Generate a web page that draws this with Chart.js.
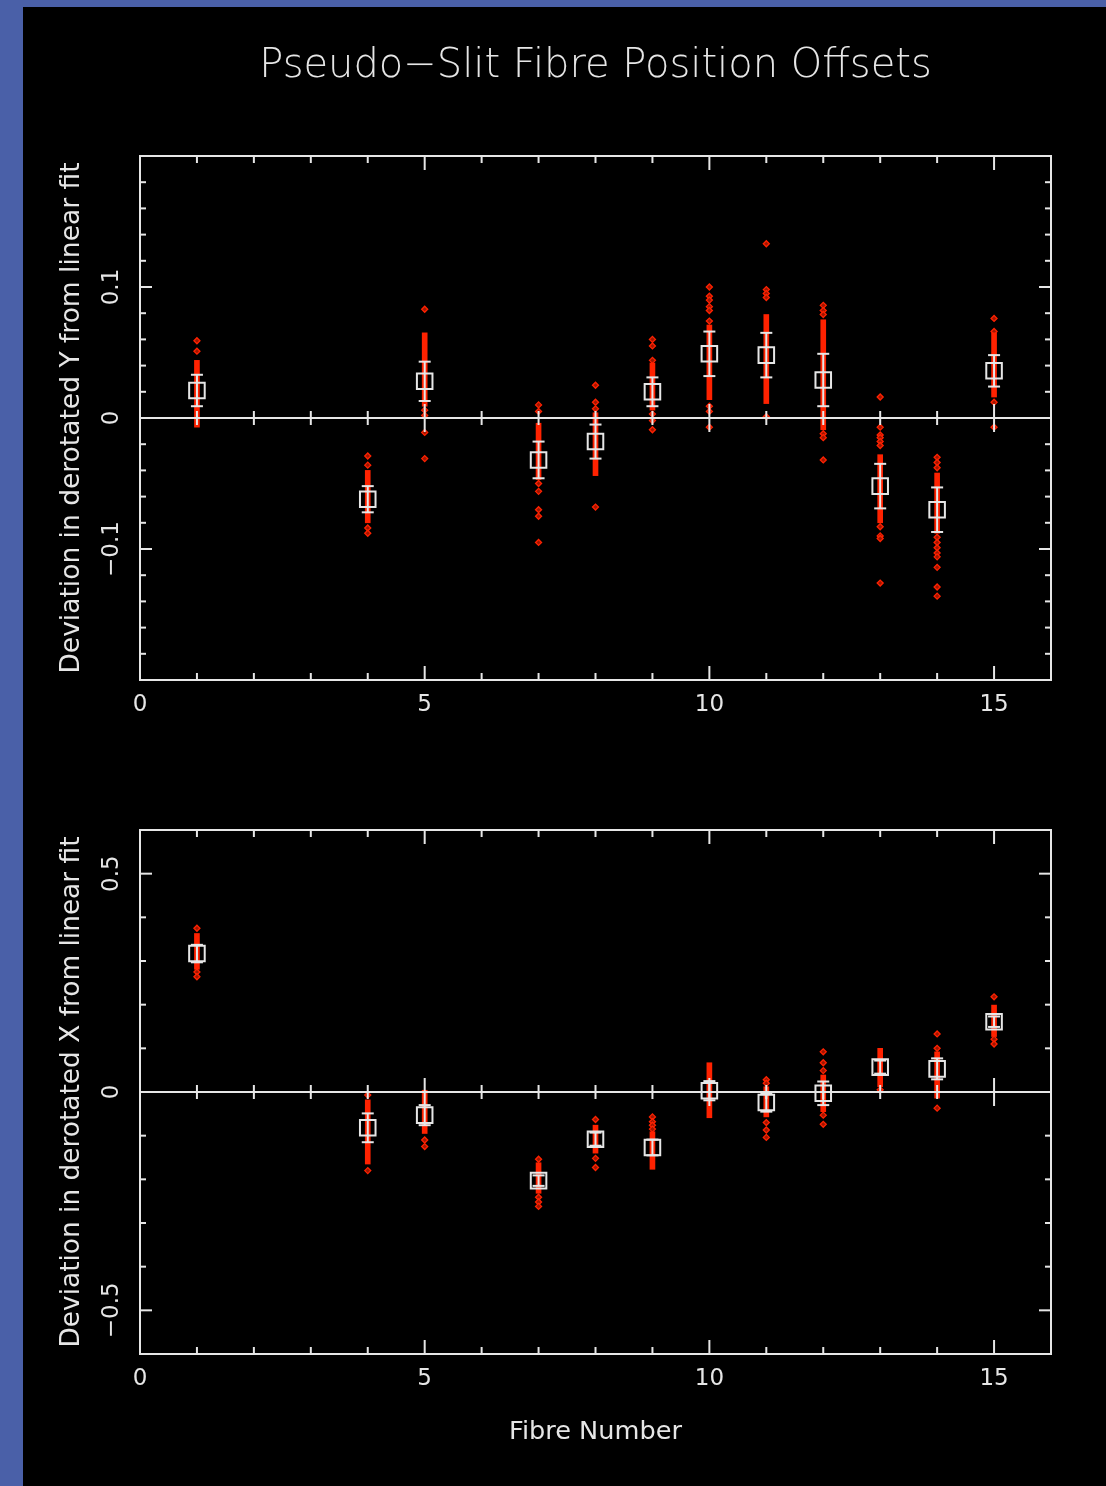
<!DOCTYPE html>
<html>
<head>
<meta charset="utf-8">
<script src="https://cdn.jsdelivr.net/npm/chart.js@4.4.1/dist/chart.umd.min.js"></script>
<style>
html, body { margin: 0; padding: 0; }
body { width: 1106px; height: 1486px; background: #4a60a8; position: relative; overflow: hidden; }
#panel { position: absolute; left: 23px; top: 7px; right: 0; bottom: 0; background: #000; }
.box { position: absolute; left: 0; width: 1106px; }
#topBox { top: 0; height: 740px; }
#bottomBox { top: 740px; height: 746px; }
</style>
</head>
<body>
<div id="panel"></div>
<div class="box" id="topBox"><canvas id="yOffsetChart"></canvas></div>
<div class="box" id="bottomBox"><canvas id="xOffsetChart"></canvas></div>
<script>
// fibres that were measured
var fibres = [1, 4, 5, 7, 8, 9, 10, 11, 12, 13, 14, 15];

// Y offsets (top panel): mean, error, dense range of samples, single outlying samples
var yMean = [0.021, -0.062, 0.028, -0.032, -0.018, 0.020, 0.049, 0.048, 0.029, -0.052, -0.070, 0.036];
var yErr = [0.012, 0.010, 0.015, 0.014, 0.013, 0.011, 0.017, 0.017, 0.020, 0.017, 0.017, 0.012];
var yBandLo = [-0.007, -0.080, 0.009, -0.047, -0.044, 0.006, 0.014, 0.011, -0.009, -0.080, -0.088, 0.016];
var yBandHi = [0.044, -0.040, 0.065, -0.004, 0.004, 0.042, 0.071, 0.079, 0.075, -0.028, -0.042, 0.065];
var yDots = [
    [0.059, 0.051],
    [-0.029, -0.036, -0.084, -0.088],
    [0.083, 0.006, 0.002, -0.011, -0.031],
    [0.010, 0.005, -0.050, -0.056, -0.070, -0.075, -0.095],
    [0.025, 0.012, 0.007, -0.068],
    [0.060, 0.055, 0.044, 0.003, -0.002, -0.009],
    [0.100, 0.093, 0.090, 0.085, 0.082, 0.074, 0.009, 0.005, -0.007],
    [0.133, 0.098, 0.095, 0.092, 0.001],
    [0.086, 0.082, 0.079, -0.012, -0.015, -0.032],
    [0.016, -0.007, -0.013, -0.015, -0.018, -0.021, -0.083, -0.090, -0.092, -0.126],
    [-0.030, -0.034, -0.038, -0.091, -0.095, -0.099, -0.103, -0.106, -0.114, -0.129, -0.136],
    [0.076, 0.066, 0.012, -0.007]
];

// X offsets (bottom panel)
var xMean = [0.317, -0.082, -0.053, -0.203, -0.108, -0.127, 0.003, -0.024, -0.003, 0.057, 0.053, 0.161];
var xErr = [0.020, 0.033, 0.023, 0.012, 0.015, 0.018, 0.022, 0.021, 0.027, 0.015, 0.024, 0.012];
var xBandLo = [0.281, -0.165, -0.095, -0.232, -0.140, -0.177, -0.059, -0.057, -0.045, 0.012, -0.014, 0.127];
var xBandHi = [0.363, -0.018, 0.004, -0.162, -0.076, -0.091, 0.067, 0.012, 0.039, 0.100, 0.092, 0.199];
var xDots = [
    [0.375, 0.275, 0.264],
    [-0.007, -0.180],
    [-0.110, -0.125],
    [-0.154, -0.241, -0.252, -0.262],
    [-0.063, -0.152, -0.173],
    [-0.057, -0.068, -0.076, -0.085],
    [],
    [0.028, 0.020, -0.070, -0.087, -0.104],
    [0.092, 0.067, 0.049, -0.053, -0.074],
    [0.005],
    [0.133, 0.100, -0.037],
    [0.218, 0.121, 0.110]
];

var xTickLabels = ['0', '5', '10', '15'];
var yTopTickLabels = ['0.1', '0', '\u22120.1'];
var yBottomTickLabels = ['0.5', '0', '\u22120.5'];

var white = '#e6e6e6';
var red = '#ff2200';
var fontFamily = "'DejaVu Sans', sans-serif";

// set font size so the text fills a given width
function fitFont(ctx, text, width, weight) {
    var w = weight || 'normal';
    ctx.font = w + ' 100px ' + fontFamily;
    var size = 100 * width / ctx.measureText(text).width;
    ctx.font = w + ' ' + size.toFixed(1) + 'px ' + fontFamily;
}

function line(ctx, x1, y1, x2, y2) {
    ctx.beginPath();
    ctx.moveTo(x1, y1);
    ctx.lineTo(x2, y2);
    ctx.stroke();
}

// PGPLOT-like box: frame with inward ticks, zero axis, error bars and labels
var pgBox = {
    id: 'pgBox',
    afterDatasetsDraw: function (chart, args, o) {
        var ctx = chart.ctx, a = chart.chartArea;
        var xs = chart.scales.x, ys = chart.scales.y;
        ctx.save();
        ctx.strokeStyle = white;
        ctx.fillStyle = white;
        ctx.lineWidth = 2;

        // error bars
        o.mean.forEach(function (m, i) {
            var px = xs.getPixelForValue(fibres[i]);
            var top = ys.getPixelForValue(m + o.err[i]);
            var bot = ys.getPixelForValue(m - o.err[i]);
            line(ctx, px, top, px, bot);
            line(ctx, px - 6, top, px + 6, top);
            line(ctx, px - 6, bot, px + 6, bot);
        });

        // frame
        ctx.strokeRect(a.left, a.top, a.right - a.left, a.bottom - a.top);

        // zero axis
        var y0 = ys.getPixelForValue(0);
        line(ctx, a.left, y0, a.right, y0);

        // x ticks
        for (var v = 1; v < 16; v++) {
            var px = xs.getPixelForValue(v);
            var len = v % 5 === 0 ? 14 : 7;
            line(ctx, px, a.top, px, a.top + len);
            line(ctx, px, a.bottom, px, a.bottom - len);
            line(ctx, px, y0 - len, px, y0 + len);
        }

        // y ticks
        var n = Math.round(o.max / o.minor);
        for (var k = -n + 1; k < n; k++) {
            var py = ys.getPixelForValue(k * o.minor);
            var l = k % o.every === 0 ? 12 : 6;
            line(ctx, a.left, py, a.left + l, py);
            line(ctx, a.right, py, a.right - l, py);
        }

        // x tick labels
        ctx.textAlign = 'center';
        ctx.textBaseline = 'middle';
        ctx.font = '23px ' + fontFamily;
        xTickLabels.forEach(function (t) {
            ctx.fillText(t, xs.getPixelForValue(Number(t)), a.bottom + 25);
        });

        // y tick labels (rotated)
        o.yLabels.forEach(function (t, i) {
            var val = o.yValues[i];
            ctx.save();
            ctx.translate(a.left - 28, ys.getPixelForValue(val));
            ctx.rotate(-Math.PI / 2);
            ctx.font = '23px ' + fontFamily;
            ctx.fillText(t, 0, 0);
            ctx.restore();
        });

        // y axis title
        ctx.save();
        ctx.translate(a.left - 68, (a.top + a.bottom) / 2);
        ctx.rotate(-Math.PI / 2);
        fitFont(ctx, o.yTitle, 511);
        ctx.fillText(o.yTitle, 0, 0);
        ctx.restore();

        if (o.title) {
            fitFont(ctx, o.title, 672, '200');
            ctx.fillText(o.title, (a.left + a.right) / 2, a.top - 89);
        }
        if (o.xTitle) {
            fitFont(ctx, o.xTitle, 173);
            ctx.fillText(o.xTitle, (a.left + a.right) / 2, a.bottom + 78);
        }
        ctx.restore();
    }
};

function makeChart(id, mean, err, lo, hi, dots, range, box, padding) {
    var ctx = document.getElementById(id).getContext('2d');
    var dotData = [];
    dots.forEach(function (list, i) {
        list.forEach(function (v) { dotData.push({ x: fibres[i], y: v }); });
    });
    return new Chart(ctx, {
        type: 'scatter',
        data: {
            datasets: [{
                label: 'mean',
                data: fibres.map(function (f, i) { return { x: f, y: mean[i] }; }),
                pointStyle: 'rect',
                pointRadius: 11,
                borderColor: white,
                backgroundColor: 'rgba(0,0,0,0)',
                borderWidth: 2,
                order: 0
            }, {
                type: 'bar',
                label: 'samples range',
                data: fibres.map(function (f, i) { return { x: f, y: [lo[i], hi[i]] }; }),
                backgroundColor: red,
                barThickness: 5,
                grouped: false,
                order: 2
            }, {
                label: 'samples',
                data: dotData,
                pointStyle: 'rectRot',
                pointRadius: 3,
                backgroundColor: '#a01500',
                borderColor: red,
                borderWidth: 1.3,
                order: 3
            }]
        },
        options: {
            responsive: true,
            maintainAspectRatio: false,
            animation: false,
            layout: { padding: padding },
            scales: {
                x: { type: 'linear', min: 0, max: 16, offset: false, display: false },
                y: { type: 'linear', min: -range, max: range, display: false }
            },
            plugins: {
                legend: { display: false },
                tooltip: { enabled: false },
                pgBox: box
            }
        },
        plugins: [pgBox]
    });
}

makeChart('yOffsetChart', yMean, yErr, yBandLo, yBandHi, yDots, 0.2, {
    mean: yMean, err: yErr, max: 0.2, minor: 0.02, every: 5,
    yLabels: yTopTickLabels, yValues: [0.1, 0, -0.1],
    yTitle: 'Deviation in derotated Y from linear fit',
    title: 'Pseudo\u2212Slit Fibre Position Offsets'
}, { left: 140, top: 156, right: 55, bottom: 60 });

makeChart('xOffsetChart', xMean, xErr, xBandLo, xBandHi, xDots, 0.6, {
    mean: xMean, err: xErr, max: 0.6, minor: 0.1, every: 5,
    yLabels: yBottomTickLabels, yValues: [0.5, 0, -0.5],
    yTitle: 'Deviation in derotated X from linear fit',
    xTitle: 'Fibre Number'
}, { left: 140, top: 90, right: 55, bottom: 132 });
</script>
</body>
</html>
